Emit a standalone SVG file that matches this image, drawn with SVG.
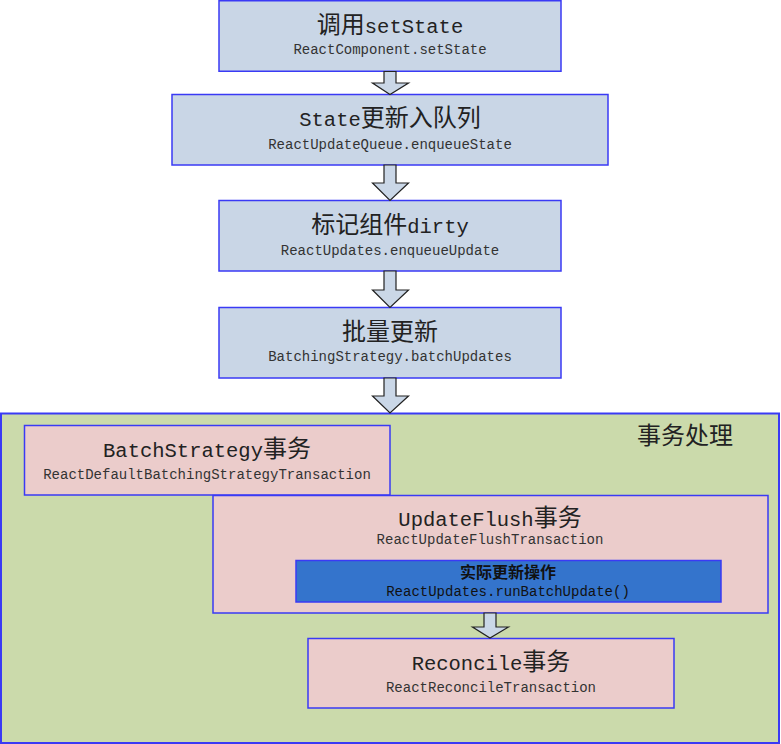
<svg xmlns="http://www.w3.org/2000/svg" width="781" height="744" viewBox="0 0 781 744">
<style>
.blue{fill:#c9d6e6;stroke:#3a3af5;stroke-width:1.5}
.pink{fill:#ebcccb;stroke:#3a3af5;stroke-width:1.5}
.green{fill:#cbdaab;stroke:#3a3af5;stroke-width:2}
.dark{fill:#3474cc;stroke:#3a3af5;stroke-width:1.5}
.arrow{fill:#cad7e7;stroke:#222;stroke-width:1.2;stroke-linejoin:miter}
.t{font-size:24px;fill:#222;text-anchor:middle}
.lat{font-family:"Liberation Mono","DejaVu Sans Mono",monospace;font-size:20.5px}
.cjk{font-family:"Noto Sans CJK SC",sans-serif;font-size:24px}
.s{font-family:"Liberation Mono","DejaVu Sans Mono",monospace;font-size:14px;fill:#333;text-anchor:middle}
</style>
<rect width="781" height="744" fill="#ffffff"/>
<g id="n1"><rect class="blue" x="219" y="0.75" width="342" height="70.5"/>
<text class="t" x="390" y="33"><tspan class="cjk">调用</tspan><tspan class="lat">setState</tspan></text>
<text class="s" x="390" y="54">ReactComponent.setState</text></g>
<g id="n2"><rect class="blue" x="172" y="94.5" width="436" height="70.5"/>
<text class="t" x="390" y="126"><tspan class="lat">State</tspan><tspan class="cjk">更新入队列</tspan></text>
<text class="s" x="390" y="149">ReactUpdateQueue.enqueueState</text></g>
<g id="n3"><rect class="blue" x="219" y="200.5" width="342" height="70.5"/>
<text class="t" x="390" y="233"><tspan class="cjk">标记组件</tspan><tspan class="lat">dirty</tspan></text>
<text class="s" x="390" y="255">ReactUpdates.enqueueUpdate</text></g>
<g id="n4"><rect class="blue" x="219" y="307.5" width="342" height="70.5"/>
<text class="t" x="390" y="340"><tspan class="cjk">批量更新</tspan></text>
<text class="s" x="390" y="361">BatchingStrategy.batchUpdates</text></g>
<g id="container"><rect class="green" x="1" y="413.5" width="778" height="329.5"/>
<text x="685" y="444" style="font-family:'Noto Sans CJK SC',sans-serif;font-size:24px;fill:#222;text-anchor:middle">事务处理</text></g>
<g id="n5"><rect class="pink" x="24.5" y="425.5" width="365.5" height="69.5"/>
<text class="t" x="207" y="457"><tspan class="lat">BatchStrategy</tspan><tspan class="cjk">事务</tspan></text>
<text class="s" x="207" y="479">ReactDefaultBatchingStrategyTransaction</text></g>
<g id="n6"><rect class="pink" x="213" y="495.5" width="555" height="117.5"/>
<text class="t" x="490" y="526"><tspan class="lat">UpdateFlush</tspan><tspan class="cjk">事务</tspan></text>
<text class="s" x="490" y="544">ReactUpdateFlushTransaction</text></g>
<g id="n7"><rect class="dark" x="296" y="560.5" width="425" height="41.5"/>
<text x="508" y="578" style="font-family:'Noto Sans CJK SC',sans-serif;font-size:16px;font-weight:bold;fill:#111;text-anchor:middle">实际更新操作</text>
<text class="s" x="508" y="596" style="fill:#111">ReactUpdates.runBatchUpdate()</text></g>
<g id="n8"><rect class="pink" x="308" y="638.5" width="366" height="69.5"/>
<text class="t" x="491" y="670"><tspan class="lat">Reconcile</tspan><tspan class="cjk">事务</tspan></text>
<text class="s" x="491" y="692">ReactReconcileTransaction</text></g>
<g id="connectors">
<path class="arrow" d="M384,71.5 V83 H372.5 L390,94.5 L408.5,83 H396 V71.5 Z"/>
<path class="arrow" d="M384,165 V183 H372.5 L390,200.5 L408.5,183 H396 V165 Z"/>
<path class="arrow" d="M384,271 V290 H372.5 L390,307.5 L408.5,290 H396 V271 Z"/>
<path class="arrow" d="M384,378 V396 H372.5 L390,413 L408.5,396 H396 V378 Z"/>
<path class="arrow" d="M484,613 V627 H472.5 L490,638 L508.5,627 H496 V613 Z"/>
</g>
</svg>
